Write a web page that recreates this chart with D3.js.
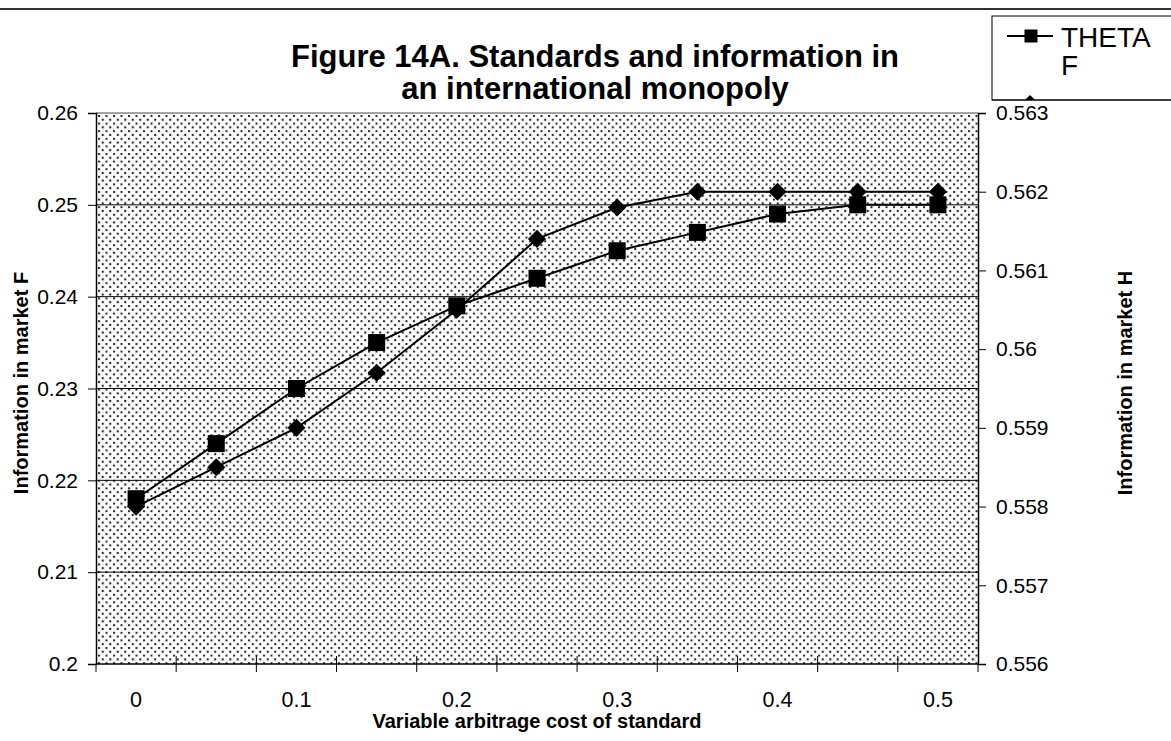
<!DOCTYPE html>
<html lang="en">
	<head>
		<meta charset="utf-8">
		<title>Figure 14A</title>
		<script src="https://d3js.org/d3.v7.min.js"></script>
		<style>
			body { margin: 0; background: #fff; }
			text { font-family: Arial, 'Liberation Sans', sans-serif; fill: #000; }
		</style>
	</head>
	<body>
		<script>
			//chart size
			var w = 1171;
			var h = 741;

			//data
			var costs = ["0", "0.05", "0.1", "0.15", "0.2", "0.25", "0.3", "0.35", "0.4", "0.45", "0.5"];
			var xLabels = ["0", "0.1", "0.2", "0.3", "0.4", "0.5"];
			var thetaF = [0.218, 0.224, 0.230, 0.235, 0.239, 0.242, 0.245, 0.247, 0.249, 0.250, 0.250];
			var infoH = [0.5580, 0.5585, 0.5590, 0.5597, 0.5605, 0.5614, 0.5618, 0.5620, 0.5620, 0.5620, 0.5620];
			var leftTicks = [0.2, 0.21, 0.22, 0.23, 0.24, 0.25, 0.26];
			var rightTicks = [0.556, 0.557, 0.558, 0.559, 0.560, 0.561, 0.562, 0.563];

			//plot area
			var plotL = 96, plotR = 978, plotT = 113, plotB = 664;

			var x = d3.scaleBand().domain(costs).range([plotL, plotR]);
			var yL = d3.scaleLinear().domain([0.2, 0.26]).range([plotB, plotT]);
			var yR = d3.scaleLinear().domain([0.556, 0.563]).range([plotB, plotT]);
			var cx = function(d, i) { return x(costs[i]) + x.bandwidth() / 2; };

			var svg = d3.select("body").append("svg")
				.attr("width", w)
				.attr("height", h);

			//dotted fill pattern
			var pat = svg.append("defs").append("pattern")
				.attr("id", "dots")
				.attr("patternUnits", "userSpaceOnUse")
				.attr("x", plotL + 2).attr("y", plotT + 2)
				.attr("width", 7.5).attr("height", 7.6);
			pat.append("rect").attr("width", 7.5).attr("height", 7.6).attr("fill", "#fff");
			pat.append("circle").attr("cx", 1).attr("cy", 1).attr("r", 1.15).attr("fill", "#222");
			pat.append("circle").attr("cx", 4.75).attr("cy", 4.8).attr("r", 1.15).attr("fill", "#222");

			//top rule
			svg.append("line")
				.attr("x1", 0).attr("x2", w).attr("y1", 9).attr("y2", 9)
				.attr("stroke", "#333").attr("stroke-width", 2);

			//plot background
			svg.append("rect")
				.attr("x", plotL).attr("y", plotT)
				.attr("width", plotR - plotL).attr("height", plotB - plotT)
				.attr("fill", "url(#dots)");

			//gridlines
			svg.append("g").selectAll("line")
				.data(leftTicks.slice(1, -1))
				.enter().append("line")
				.attr("x1", plotL).attr("x2", plotR)
				.attr("y1", function(d) { return yL(d); })
				.attr("y2", function(d) { return yL(d); })
				.attr("stroke", "#000").attr("stroke-width", 1);

			//top border (grey)
			svg.append("line")
				.attr("x1", plotL).attr("x2", plotR).attr("y1", plotT).attr("y2", plotT)
				.attr("stroke", "#888").attr("stroke-width", 1.5);

			//left axis
			var leftAxis = d3.axisLeft(yL).tickValues(leftTicks).tickSize(8).tickPadding(10)
				.tickFormat(function(d) { return String(+d.toFixed(2)); });
			var gL = svg.append("g").attr("transform", "translate(" + plotL + ",0)").call(leftAxis);
			gL.select(".domain").attr("stroke", "#000").attr("stroke-width", 1.5);
			gL.selectAll(".tick line").attr("stroke", "#000");
			gL.selectAll("text").style("font-size", "21px").attr("fill", "#000");

			//right axis
			var rightAxis = d3.axisRight(yR).tickValues(rightTicks).tickSize(8).tickPadding(10)
				.tickFormat(function(d) { return String(+d.toFixed(3)); });
			var gR = svg.append("g").attr("transform", "translate(" + plotR + ",0)").call(rightAxis);
			gR.select(".domain").attr("stroke", "#000").attr("stroke-width", 1.5);
			gR.selectAll(".tick line").attr("stroke", "#000");
			gR.selectAll("text").style("font-size", "21px").attr("fill", "#000");

			//bottom axis: labels at category centres, ticks at category edges
			var bottomAxis = d3.axisBottom(x)
				.tickValues(xLabels).tickSize(0).tickPadding(28);
			var gB = svg.append("g").attr("transform", "translate(0," + plotB + ")").call(bottomAxis);
			gB.select(".domain").remove();
			gB.selectAll("text").style("font-size", "21.5px").attr("fill", "#000");
			svg.append("line")
				.attr("x1", plotL).attr("x2", plotR).attr("y1", plotB).attr("y2", plotB)
				.attr("stroke", "#000").attr("stroke-width", 1.5);
			svg.append("g").selectAll("line")
				.data(costs.concat(["end"]))
				.enter().append("line")
				.attr("x1", function(d, i) { return i < costs.length ? x(d) : plotR; })
				.attr("x2", function(d, i) { return i < costs.length ? x(d) : plotR; })
				.attr("y1", function(d, i) { return (i === 0 || i === costs.length) ? plotB : plotB - 8; })
				.attr("y2", plotB + 8)
				.attr("stroke", "#000").attr("stroke-width", 1);

			//series lines
			var lineF = d3.line().x(cx).y(function(d) { return yL(d); });
			var lineH = d3.line().x(cx).y(function(d) { return yR(d); });

			svg.append("path").datum(infoH)
				.attr("d", lineH).attr("fill", "none")
				.attr("stroke", "#000").attr("stroke-width", 2);
			svg.append("path").datum(thetaF)
				.attr("d", lineF).attr("fill", "none")
				.attr("stroke", "#000").attr("stroke-width", 2);

			//diamond markers
			var dia = d3.symbol().type(d3.symbolDiamond2).size(210);
			svg.append("g").selectAll("path")
				.data(infoH)
				.enter().append("path")
				.attr("d", dia)
				.attr("transform", function(d, i) { return "translate(" + cx(d, i) + "," + yR(d) + ")"; })
				.attr("fill", "#000");

			//square markers
			svg.append("g").selectAll("rect")
				.data(thetaF)
				.enter().append("rect")
				.attr("x", function(d, i) { return cx(d, i) - 8.5; })
				.attr("y", function(d) { return yL(d) - 8.5; })
				.attr("width", 17).attr("height", 17)
				.attr("fill", "#000");

			//title
			var title = svg.append("text")
				.attr("text-anchor", "middle")
				.style("font-size", "31px").style("font-weight", "bold");
			title.append("tspan").attr("x", 595).attr("y", 67).text("Figure 14A. Standards and information in");
			title.append("tspan").attr("x", 595).attr("y", 99).text("an international monopoly");

			//axis titles
			svg.append("text")
				.attr("transform", "translate(28,383) rotate(-90)")
				.attr("text-anchor", "middle")
				.style("font-size", "20px").style("font-weight", "bold")
				.text("Information in market F");
			svg.append("text")
				.attr("transform", "translate(1132,383) rotate(-90)")
				.attr("text-anchor", "middle")
				.style("font-size", "20px").style("font-weight", "bold")
				.text("Information in market H");
			svg.append("text")
				.attr("x", 537).attr("y", 728)
				.attr("text-anchor", "middle")
				.style("font-size", "20px").style("font-weight", "bold")
				.text("Variable arbitrage cost of standard");

			//legend (box runs off the right edge, second entry clipped)
			svg.append("clipPath").attr("id", "legclip")
				.append("rect").attr("x", 992).attr("y", 16).attr("width", 200).attr("height", 84);
			var leg = svg.append("g");
			leg.append("rect")
				.attr("x", 992).attr("y", 16).attr("width", 200).attr("height", 84)
				.attr("fill", "#fff").attr("stroke", "#000").attr("stroke-width", 1);
			var legIn = leg.append("g").attr("clip-path", "url(#legclip)");
			legIn.append("line")
				.attr("x1", 1007).attr("x2", 1053).attr("y1", 36).attr("y2", 36)
				.attr("stroke", "#000").attr("stroke-width", 2);
			legIn.append("rect")
				.attr("x", 1024.5).attr("y", 29.5).attr("width", 13).attr("height", 13)
				.attr("fill", "#000");
			legIn.append("path")
				.attr("d", dia)
				.attr("transform", "translate(1030,104)")
				.attr("fill", "#000");
			var legText = legIn.append("text").style("font-size", "28px");
			legText.append("tspan").attr("x", 1061).attr("y", 47).text("THETA");
			legText.append("tspan").attr("x", 1061).attr("y", 75).text("F");
			leg.append("line")
				.attr("x1", 992).attr("x2", 1171).attr("y1", 100).attr("y2", 100)
				.attr("stroke", "#000").attr("stroke-width", 1);
		</script>
	</body>
</html>
